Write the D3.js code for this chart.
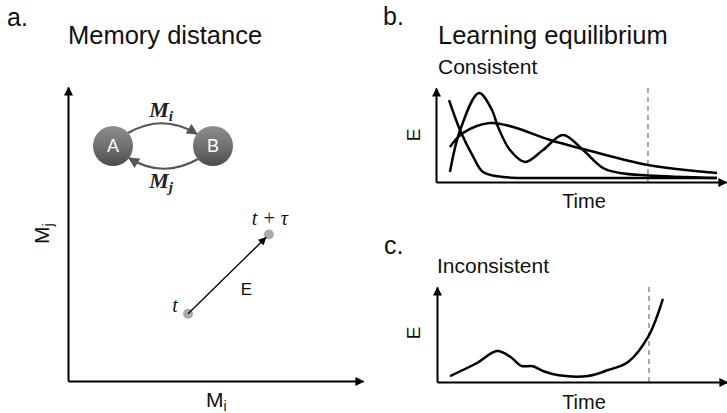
<!DOCTYPE html>
<html>
<head>
<meta charset="utf-8">
<script src="https://cdn.jsdelivr.net/npm/d3@7"></script>
<style>
  body { margin: 0; background: #fff; }
  svg { display: block; font-family: "Liberation Sans", Arial, sans-serif; }
  .axis path { stroke: #000; stroke-width: 2; fill: none; }
  .curve { fill: none; stroke: #000; stroke-width: 2.5; }
  .math { font-family: "Liberation Serif", "Times New Roman", serif; font-style: italic; }
</style>
</head>
<body>
<svg id="canvas" width="727" height="413"></svg>
<script>
// ************************************************************************************** //
// Data (x = time 0..100, y = E 0..100)

var panel_letters = ['a.', 'b.', 'c.'];
var panel_titles = ['Memory distance', 'Learning equilibrium'];
var sub_titles = ['Consistent', 'Inconsistent'];

// panel a : memory states in (Mi, Mj) space
var mem_points = [ { name: 't', mi: 40.7, mj: 22.9 }, { name: 't + τ', mi: 68.1, mj: 49.8 } ];
var nodes = ['A', 'B'];

// panel b : consistent
var cons_fast = [[4.5,87],[8.3,55],[12.8,27],[16.2,10.6],[23.1,5.3],[40.3,4.3],[96.9,4.3]];
var cons_wave = [[4.8,10.6],[8.3,55],[14.8,94.7],[19.3,76.6],[21.4,58.5],[25.5,34],[30.7,21.3],[36.9,34],[43.8,50],[50.7,34],[57.6,14.9],[63.4,9.6],[73.1,7],[96.9,4.3]];
var cons_hump = [[4.8,37.2],[9.3,52.1],[18.6,62.8],[26.6,58.5],[39.3,44.7],[52.1,34],[73.1,18.1],[96.9,9.6]];

// panel c : inconsistent
var incons = [[4.5,6.3],[13.8,20],[20.7,32.6],[25.5,26],[29,17],[33.1,16.5],[37,11],[42,7],[52.1,6.3],[59,12.6],[65.9,21.1],[72.8,47.4],[77.9,87.4]];

var equil_time = 73.1;

// ************************************************************************************** //
// Setup

var svg = d3.select('#canvas');
var defs = svg.append('defs');

function addArrow(id, color, w, h){
  defs.append('marker')
    .attr('id', id).attr('markerUnits', 'userSpaceOnUse')
    .attr('markerWidth', w).attr('markerHeight', h)
    .attr('viewBox', '0 0 10 10').attr('refX', 9).attr('refY', 5)
    .attr('orient', 'auto')
    .append('path').attr('d', 'M0,0 L10,5 L0,10 z').attr('fill', color);
}
addArrow('arr_axis', '#000', 9, 9);
addArrow('arr_thin', '#000', 9, 8);
addArrow('arr_grey', '#555', 12, 11);

var grad = defs.append('linearGradient').attr('id', 'ball').attr('x1', 0).attr('y1', 0).attr('x2', 0).attr('y2', 1);
grad.append('stop').attr('offset', '0%').attr('stop-color', '#8e8e8e');
grad.append('stop').attr('offset', '60%').attr('stop-color', '#6a6a6a');
grad.append('stop').attr('offset', '100%').attr('stop-color', '#4c4c4c');

function text(x, y, s, size, anchor){
  return svg.append('text').attr('x', x).attr('y', y).attr('font-size', size)
    .attr('text-anchor', anchor || 'start').attr('fill', '#111').text(s);
}

function drawAxes(x, y){
  svg.append('g').attr('class', 'axis').attr('transform', 'translate(0,' + y.range()[0] + ')')
    .call(d3.axisBottom(x).ticks(0).tickSizeOuter(0))
    .select('.domain').attr('marker-end', 'url(#arr_axis)');
  svg.append('g').attr('class', 'axis').attr('transform', 'translate(' + x.range()[0] + ',0)')
    .call(d3.axisLeft(y).ticks(0).tickSizeOuter(0))
    .select('.domain').attr('marker-end', 'url(#arr_axis)');
}

// ************************************************************************************** //
// Panel a : memory distance

text(7, 26, panel_letters[0], 25);
text(68, 44, panel_titles[0], 25.5);

var xa = d3.scaleLinear().domain([0, 100]).range([68, 363]);
var ya = d3.scaleLinear().domain([0, 100]).range([381, 87]);
drawAxes(xa, ya);

var mi = text(206, 407, 'M', 21);
mi.append('tspan').attr('font-size', 14).attr('dy', 4).text('i');
var mj = svg.append('text').attr('transform', 'translate(49,244) rotate(-90)').attr('font-size', 21).attr('fill', '#111').text('M');
mj.append('tspan').attr('font-size', 14).attr('dy', 4).text('j');

// A <-> B diagram
var node_x = d3.scalePoint().domain(nodes).range([113, 213]);
var node_y = 146, node_r = 20;
var mx = (node_x('A') + node_x('B')) / 2;

svg.append('path').attr('d', 'M' + (node_x('A') + 15) + ',' + (node_y - 13) + ' Q' + mx + ',' + (node_y - 33) + ' ' + (node_x('B') - 16) + ',' + (node_y - 12))
  .attr('fill', 'none').attr('stroke', '#555').attr('stroke-width', 2.2).attr('marker-end', 'url(#arr_grey)');
svg.append('path').attr('d', 'M' + (node_x('B') - 15) + ',' + (node_y + 13) + ' Q' + mx + ',' + (node_y + 33) + ' ' + (node_x('A') + 16) + ',' + (node_y + 12))
  .attr('fill', 'none').attr('stroke', '#555').attr('stroke-width', 2.2).attr('marker-end', 'url(#arr_grey)');

nodes.forEach(function(n){
  svg.append('circle').attr('cx', node_x(n)).attr('cy', node_y).attr('r', node_r).attr('fill', 'url(#ball)');
  svg.append('text').attr('x', node_x(n)).attr('y', node_y + 6).attr('text-anchor', 'middle')
    .attr('font-size', 18).attr('fill', '#fff').text(n);
});

var lmi = svg.append('text').attr('class', 'math').attr('x', mx - 2).attr('y', node_y - 29).attr('text-anchor', 'middle')
  .attr('font-size', 22).attr('font-weight', 'bold').attr('fill', '#222').text('M');
lmi.append('tspan').attr('font-size', 15).attr('dy', 4).text('i');
var lmj = svg.append('text').attr('class', 'math').attr('x', mx - 2).attr('y', node_y + 42).attr('text-anchor', 'middle')
  .attr('font-size', 22).attr('font-weight', 'bold').attr('fill', '#222').text('M');
lmj.append('tspan').attr('font-size', 15).attr('dy', 4).text('j');

// distance arrow t -> t + tau
var p0 = mem_points[0], p1 = mem_points[1];
svg.selectAll('.mem_pt').data(mem_points).enter().append('circle').attr('class', 'mem_pt')
  .attr('cx', function(d){ return xa(d.mi); }).attr('cy', function(d){ return ya(d.mj); })
  .attr('r', 5).attr('fill', '#aaa');
svg.append('line').attr('x1', xa(p0.mi)).attr('y1', ya(p0.mj)).attr('x2', xa(p1.mi) - 3).attr('y2', ya(p1.mj) + 3)
  .attr('stroke', '#000').attr('stroke-width', 1.3).attr('marker-end', 'url(#arr_thin)');
text(xa(p0.mi) - 13, ya(p0.mj) - 2, p0.name, 20, 'middle').attr('class', 'math');
text(xa(p1.mi) + 1, ya(p1.mj) - 10, p1.name, 20, 'middle').attr('class', 'math');
text(xa((p0.mi + p1.mi) / 2) + 18, ya((p0.mj + p1.mj) / 2) + 21, 'E', 17, 'middle');

// ************************************************************************************** //
// Panel b : consistent

var line_gen = function(x, y){
  return d3.line().x(function(d){ return x(d[0]); }).y(function(d){ return y(d[1]); }).curve(d3.curveCatmullRom.alpha(0.5));
};

text(383, 25, panel_letters[1], 25);
text(438, 44, panel_titles[1], 25.5);
text(438, 74, sub_titles[0], 21);

var xb = d3.scaleLinear().domain([0, 100]).range([436, 726]);
var yb = d3.scaleLinear().domain([0, 100]).range([182, 88]);

svg.append('line').attr('x1', xb(equil_time)).attr('x2', xb(equil_time)).attr('y1', yb(100)).attr('y2', yb(0))
  .attr('stroke', '#555').attr('stroke-width', 1).attr('stroke-dasharray', '5,4');

[cons_fast, cons_wave, cons_hump].forEach(function(s){
  svg.append('path').attr('class', 'curve').attr('d', line_gen(xb, yb)(s));
});
drawAxes(xb, yb);

svg.append('text').attr('transform', 'translate(420,135) rotate(-90)').attr('text-anchor', 'middle')
  .attr('font-size', 19).attr('fill', '#111').text('E');
text(584, 208, 'Time', 20, 'middle');

// ************************************************************************************** //
// Panel c : inconsistent

text(384, 254, panel_letters[2], 25);
text(437, 273, sub_titles[1], 21);

var xc = d3.scaleLinear().domain([0, 100]).range([437, 727]);
var yc = d3.scaleLinear().domain([0, 100]).range([382, 287]);

svg.append('line').attr('x1', xc(equil_time)).attr('x2', xc(equil_time)).attr('y1', yc(100)).attr('y2', yc(0))
  .attr('stroke', '#555').attr('stroke-width', 1).attr('stroke-dasharray', '5,4');
svg.append('path').attr('class', 'curve').attr('d', line_gen(xc, yc)(incons));
drawAxes(xc, yc);

svg.append('text').attr('transform', 'translate(420,333) rotate(-90)').attr('text-anchor', 'middle')
  .attr('font-size', 19).attr('fill', '#111').text('E');
text(584, 409, 'Time', 20, 'middle');
</script>
</body>
</html>
